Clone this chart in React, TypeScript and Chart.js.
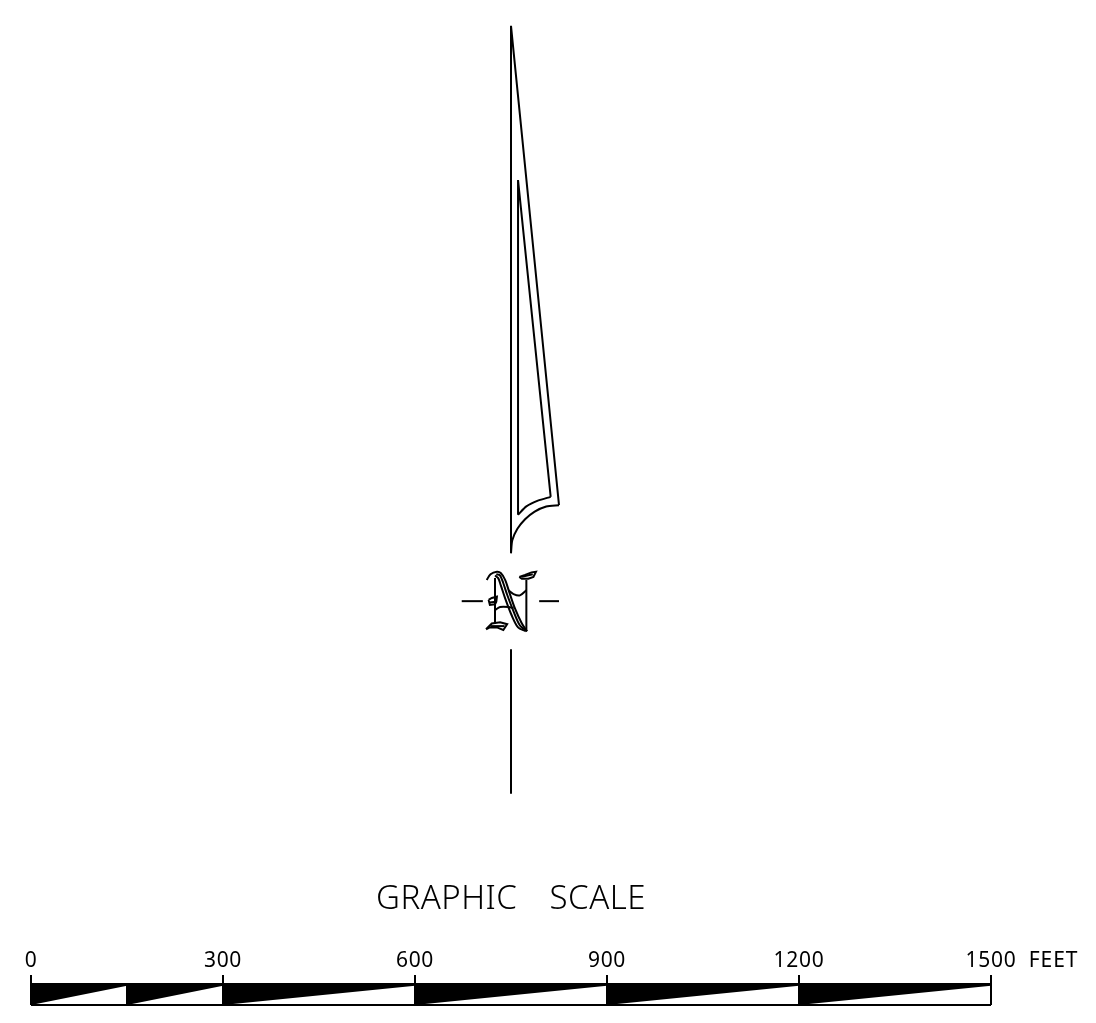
import React, { useEffect, useRef } from "react";
import { Chart, registerables } from "chart.js";

Chart.register(...registerables);

// All values are drawing units (feet).
type P = [number, number];

const scaleTicks = [0, 300, 600, 900, 1200, 1500];
const scaleSegments = [0, 150, 300, 600, 900, 1200, 1500];
const barHeight = 33;
const barDiagonalRise = 30;
const tickRise = 47;
const unitCaption = "FEET";
const title = "GRAPHIC  SCALE";

const arrowOuter: P[] = [[750, 706], [750, 1530], [825, 781]];
const arrowOuterCurve: P[] = [[825, 781], [805, 779], [787, 771], [772, 759], [760, 744], [752, 726], [750, 706]];
const arrowInner: P[] = [[761, 766], [761, 1289], [812, 794]];
const arrowInnerCurve: P[] = [[761, 766], [774, 779], [792, 788], [812, 794]];
const arrowTail: P[] = [[750, 556], [750, 330]];
const dashLeft: P[] = [[673, 631], [706, 631]];
const dashRight: P[] = [[794, 631], [825, 631]];

const letterStraight: P[][] = [
  [[725, 667], [725, 596]],
  [[774, 664], [774, 584]],
  [[763, 669], [772, 672], [782, 676], [789, 677], [785, 669], [777, 666], [767, 666], [763, 669]],
  [[767, 669], [784, 673]],
  [[715, 633], [720, 636], [728, 638], [727, 630], [725, 626], [717, 625], [715, 633]],
  [[716, 629], [727, 630]],
  [[711, 587], [720, 596], [733, 598], [744, 595], [738, 586], [728, 590], [717, 590], [711, 587]],
  [[718, 592], [740, 592]],
];
const letterCurved: P[][] = [
  [[712, 664], [718, 673], [728, 677], [734, 675], [741, 664], [747, 646], [756, 620], [767, 596], [775, 584]],
  [[727, 673], [733, 671], [738, 659], [744, 641], [754, 615], [764, 593], [775, 584]],
  [[725, 671], [730, 667], [734, 656], [741, 635], [751, 609], [761, 590], [773, 584]],
  [[746, 648], [754, 642], [764, 640], [774, 648]],
  [[725, 617], [733, 622], [746, 622], [754, 620]],
];

const FONT = '"Noto Sans", sans-serif';

const toPts = (pts: P[]) => pts.map(([x, y]) => ({ x, y }));

const line = (pts: P[], width: number, tension = 0) => ({
  data: toPts(pts),
  showLine: true,
  borderColor: "#000",
  borderWidth: width,
  pointRadius: 0,
  tension,
  clip: false,
  fill: false,
});

const captions = {
  id: "captions",
  beforeDraw(chart: any) {
    chart.ctx.letterSpacing = "0.7px";
  },
  afterDraw(chart: any) {
    const { ctx, scales } = chart;
    ctx.save();
    ctx.fillStyle = "#000";
    ctx.textBaseline = "middle";
    ctx.font = `400 21px ${FONT}`;
    ctx.textAlign = "left";
    ctx.letterSpacing = "0.9px";
    ctx.fillText(unitCaption, scales.x.getPixelForValue(1559), scales.y.getPixelForValue(68));
    ctx.font = `300 33px ${FONT}`;
    ctx.textAlign = "center";
    ctx.letterSpacing = "0.5px";
    ctx.wordSpacing = "7px";
    ctx.fillText(title, scales.x.getPixelForValue(750), scales.y.getPixelForValue(165));
    ctx.restore();
  },
};

export default function App() {
  const ref = useRef<HTMLCanvasElement>(null);
  useEffect(() => {
    const datasets: any[] = [];
    for (let i = 0; i < scaleSegments.length - 1; i++) {
      const a = scaleSegments[i];
      const b = scaleSegments[i + 1];
      datasets.push({
        ...line([[a, barHeight], [b, barHeight], [b, barDiagonalRise], [a, 0], [a, barHeight]], 0),
        backgroundColor: "#000",
        borderWidth: 0,
        fill: "shape",
      });
    }
    datasets.push(line([[scaleSegments[0], 0], [scaleTicks[scaleTicks.length - 1], 0]], 2));
    datasets.push(line([[scaleSegments[0], barHeight], [scaleTicks[scaleTicks.length - 1], barHeight]], 2));
    scaleSegments.forEach((s) => {
      const top = scaleTicks.includes(s) ? tickRise : barHeight;
      datasets.push(line([[s, 0], [s, top]], 2));
    });
    [arrowOuter, arrowInner, arrowTail, dashLeft, dashRight].forEach((p) => datasets.push(line(p, 2)));
    [arrowOuterCurve, arrowInnerCurve].forEach((p) => datasets.push(line(p, 2, 0.25)));
    letterStraight.forEach((p) => datasets.push(line(p, 2)));
    letterCurved.forEach((p) => datasets.push(line(p, 2, 0.3)));

    const chart = new Chart(ref.current!, {
      type: "scatter",
      data: { datasets },
      plugins: [captions],
      options: {
        responsive: false,
        animation: false,
        layout: { padding: 0 },
        plugins: { legend: { display: false }, tooltip: { enabled: false } },
        scales: {
          x: {
            type: "linear",
            min: -48.4375,
            max: 1664.0625,
            position: "bottom",
            border: { display: false },
            grid: { display: false },
            afterBuildTicks: (axis: any) => {
              axis.ticks = scaleTicks.map((value) => ({ value }));
            },
            afterFit: (axis: any) => {
              axis.height = 18;
              axis.paddingLeft = 0;
              axis.paddingRight = 0;
            },
            ticks: {
              autoSkip: false,
              maxRotation: 0,
              mirror: true,
              padding: 31,
              color: "#000",
              callback: (v: number) => String(v),
              font: { family: FONT, size: 21, weight: "400" },
            },
          },
          y: { type: "linear", display: false, min: 0, max: 1570.3125 },
        },
      },
    } as any);
    return () => chart.destroy();
  }, []);
  return (
    <div style={{ position: "absolute", left: 0, top: 0, width: 1096, height: 1023, background: "#fff" }}>
      <canvas ref={ref} width={1096} height={1023} style={{ display: "block" }} />
    </div>
  );
}
